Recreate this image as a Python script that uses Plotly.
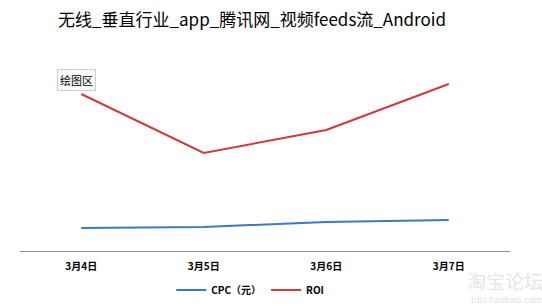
import plotly.graph_objects as go

categories = ["3月4日", "3月5日", "3月6日", "3月7日"]
cpc = [0.23, 0.24, 0.29, 0.31]
roi = [1.57, 0.98, 1.21, 1.67]
title_text = "无线_垂直行业_app_腾讯网_视频feeds流_Android"

CJK = "Noto Sans CJK SC, Microsoft YaHei, sans-serif"

fig = go.Figure()
fig.add_trace(go.Scatter(x=categories, y=cpc, mode="lines", name="CPC（元）",
                         line=dict(color="#3d78c6", width=2)))
fig.add_trace(go.Scatter(x=categories, y=roi, mode="lines", name="ROI",
                         line=dict(color="#cf3a3d", width=2)))

fig.update_layout(
    width=542, height=306,
    margin=dict(l=20, r=32, t=51, b=55, autoexpand=False),
    paper_bgcolor="white", plot_bgcolor="white",
    title=dict(text=title_text, x=0.465, xanchor="center", y=0.935, yanchor="middle",
               font=dict(family=CJK, size=17, color="#000")),
    xaxis=dict(type="category", range=[-0.5, 3.5], showgrid=False, zeroline=False,
               showline=True, linecolor="#8c8c8c", linewidth=1,
               ticks="", tickfont=dict(family=CJK, size=10, color="#000", weight="bold"),
               ticklabelstandoff=6),
    yaxis=dict(range=[0, 2], visible=False),
    showlegend=True,
    legend=dict(orientation="h", x=0.47, xanchor="center", y=-0.195, yanchor="middle",
                font=dict(family=CJK, size=10, color="#000", weight="bold"),
                itemwidth=30, tracegroupgap=0),
)

fig.add_annotation(text="绘图区", xref="paper", yref="paper", x=0.115, y=0.855,
                   xanchor="center", yanchor="middle",
                   showarrow=False, font=dict(family=CJK, size=11, color="#000"),
                   bgcolor="#fafafa", bordercolor="#cfcfcf", borderwidth=1, borderpad=2)

fig.add_annotation(text="淘宝论坛", xref="paper", yref="paper", x=1.07, y=-0.145,
                   xanchor="right", yanchor="middle", showarrow=False, borderpad=0,
                   font=dict(family=CJK, size=19, color="#e6e6e6"))
fig.add_annotation(text="bbs.taobao.com", xref="paper", yref="paper", x=1.07, y=-0.245,
                   xanchor="right", yanchor="middle", showarrow=False, borderpad=0,
                   font=dict(family="DejaVu Sans", size=9, color="#e3e3e3"))

fig.write_html("out.html")
